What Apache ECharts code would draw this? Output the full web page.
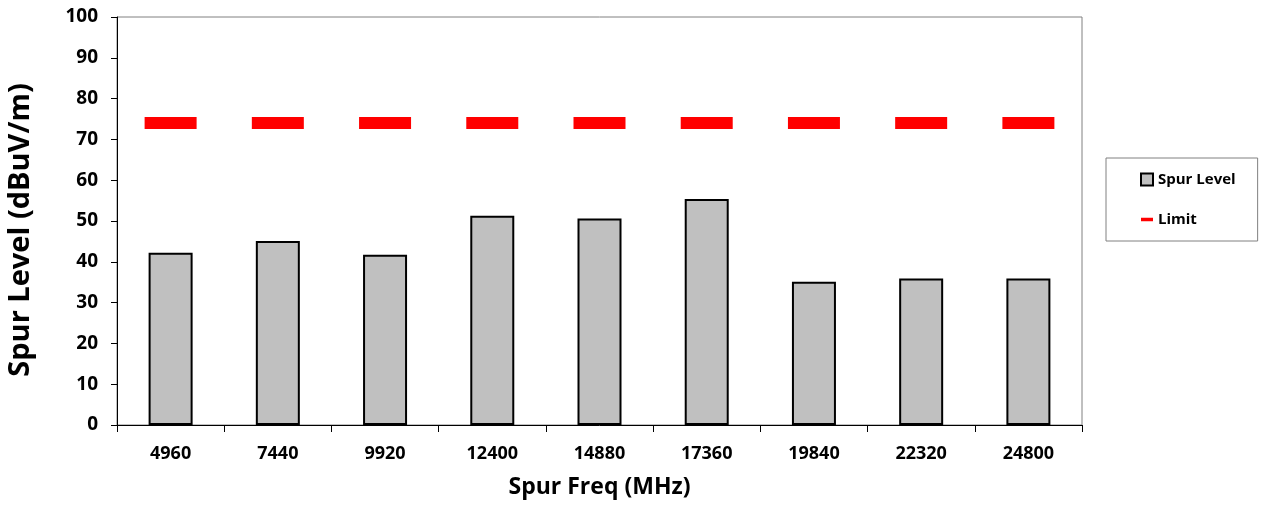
<!DOCTYPE html>
<html>
<head>
<meta charset="utf-8">
<script src="https://cdn.jsdelivr.net/npm/echarts@6/dist/echarts.min.js"></script>
<style>
  body{ margin:0; background:#fff; }
  #myChart{ width:1265px; height:505px; }
</style>
</head>
<body>
<div id="myChart"></div>
<script>
  // 数据
  var freqs = ['4960', '7440', '9920', '12400', '14880', '17360', '19840', '22320', '24800'];
  var spurLevel = [42.2, 45.1, 41.7, 51.3, 50.6, 55.4, 35.1, 35.9, 35.9];
  var limit = [74, 74, 74, 74, 74, 74, 74, 74, 74];

  var font = '"Open Sans", sans-serif';

  var myChart = echarts.init(document.getElementById('myChart'));
  myChart.setOption({
    animation: false,
    textStyle: { fontFamily: font },
    grid: {
      left: 117, top: 17, right: 183, bottom: 80,
      outerBoundsMode: 'none',
      show: true,
      borderColor: '#808080',
      borderWidth: 1
    },
    legend: {
      orient: 'vertical',
      left: 1106,
      top: 158,
      padding: [14, 22, 14, 34],
      itemGap: 25,
      itemWidth: 12,
      itemHeight: 12,
      borderColor: '#808080',
      borderWidth: 1,
      textStyle: { fontFamily: font, fontWeight: 'bold', fontSize: 15, color: '#000' },
      data: [
        { name: 'Spur Level', icon: 'rect' },
        { name: 'Limit', icon: 'path://M0,0h12v3.5h-12z' }
      ]
    },
    xAxis: {
      type: 'category',
      data: freqs,
      name: 'Spur Freq (MHz)',
      nameLocation: 'middle',
      nameGap: 51,
      nameTextStyle: { fontFamily: font, fontWeight: 'bold', fontSize: 23, color: '#000' },
      axisLine: { lineStyle: { color: '#000', width: 1 } },
      axisTick: { show: true, length: 7, lineStyle: { color: '#000' } },
      axisLabel: { fontFamily: font, fontWeight: 'bold', fontSize: 18, color: '#000', margin: 20 }
    },
    yAxis: {
      type: 'value',
      min: 0,
      max: 100,
      interval: 10,
      name: 'Spur Level (dBuV/m)',
      nameLocation: 'middle',
      nameGap: 82,
      nameTextStyle: { fontFamily: font, fontWeight: 'bold', fontSize: 29, color: '#000', padding: [0, 18, 0, 0] },
      axisLine: { show: true, lineStyle: { color: '#000', width: 1 } },
      axisTick: { show: true, length: 6, lineStyle: { color: '#000' } },
      axisLabel: { fontFamily: font, fontWeight: 'bold', fontSize: 19, color: '#000', margin: 19 },
      splitLine: { show: false }
    },
    series: [
      {
        name: 'Spur Level',
        type: 'bar',
        data: spurLevel,
        barWidth: 44,
        itemStyle: { color: '#c0c0c0', borderColor: '#000', borderWidth: 2 }
      },
      {
        name: 'Limit',
        type: 'scatter',
        data: limit,
        symbol: 'rect',
        symbolSize: [52, 12],
        itemStyle: { color: '#ff0000', opacity: 1 }
      }
    ]
  });
</script>
</body>
</html>
